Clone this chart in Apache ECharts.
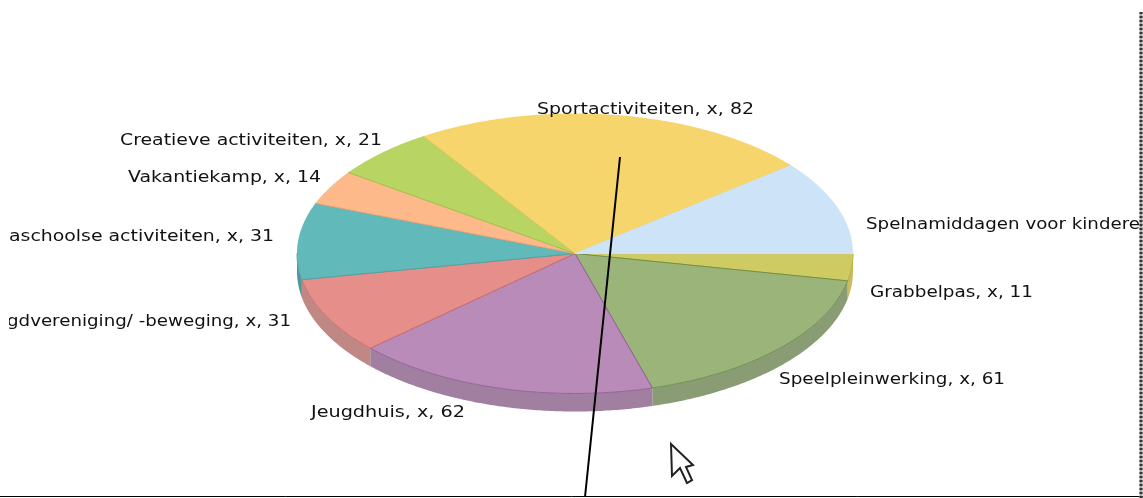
<!DOCTYPE html>
<html><head><meta charset="utf-8">
<style>html,body{margin:0;padding:0;background:#fff}#c{width:1143px;height:498px}</style>
<script src="https://cdn.jsdelivr.net/npm/echarts@6/dist/echarts.min.js"></script>
</head><body><div id="c"></div>
<script>
const categories = ["Grabbelpas","Speelpleinwerking","Jeugdhuis","Jeugdvereniging/ -beweging","Buitenschoolse activiteiten","Vakantiekamp","Creatieve activiteiten","Sportactiviteiten","Spelnamiddagen voor kinderen"];
const values = [11,61,62,31,31,14,21,82,38];
const visibleLabels = ["Grabbelpas, x, 11","Speelpleinwerking, x, 61","Jeugdhuis, x, 62","gdvereniging/ -beweging, x, 31","aschoolse activiteiten, x, 31","Vakantiekamp, x, 14","Creatieve activiteiten, x, 21","Sportactiviteiten, x, 82","Spelnamiddagen voor kindere"];

const topColors  = ["#cfcb63","#9bb47a","#b88bb8","#e58e8a","#62b9ba","#fdb98a","#b8d463","#f6d56c","#cde4f8"];
const edgeColors = ["#b5ae3c","#6f8f4c","#94609a","#c96f70","#4fa5a6","#eda677","#a5c24a","#e6c65c","#cde4f8"];
const sideColors = ["#c9b95f","#8a9c74","#a07fa0","#c08884","#4a9a9b","#d9a070","#98b050","#d6b558","#a9c4dc"];

const cx = 575, cy = 253.5, rx = 278, ry = 140, depth = 18;
const total = values.reduce((a,b)=>a+b,0);
const starts = []; values.reduce((acc,v,i)=>{starts[i]=acc;return acc+v;},0);
const ang = v => v/total*Math.PI*2;
const pt = (a,dy) => [cx+rx*Math.cos(a), cy+ry*Math.sin(a)+(dy||0)];
const arc = (a0,a1,dy) => { const n = Math.max(8, Math.ceil((a1-a0)/0.01)), p=[];
  for(let k=0;k<=n;k++) p.push(pt(a0+(a1-a0)*k/n,dy)); return p; };

function renderTop(params, api){
  const i = params.dataIndex, a0 = ang(starts[i]), a1 = ang(starts[i]+api.value(0));
  const rim = arc(a0,a1);
  const children = [
    {type:'polygon',shape:{points:[[cx,cy],...rim]},style:{fill:topColors[i]}},
    {type:'polyline',shape:{points:[pt(a0),[cx,cy],pt(a1)]},style:{fill:'none',stroke:edgeColors[i],lineWidth:1}}
  ];
  if(a0<Math.PI) children.push({type:'polyline',shape:{points:arc(a0,Math.min(a1,Math.PI))},style:{fill:'none',stroke:edgeColors[i],lineWidth:1}});
  return {type:'group',children};
}
function renderSide(params, api){
  const i = params.dataIndex, a0 = ang(starts[i]), a1 = Math.min(Math.PI, ang(starts[i]+api.value(0)));
  if(a0>=Math.PI) return null;
  const pts = [...arc(a0,a1),...arc(a0,a1,depth).reverse()];
  return {type:'polygon',shape:{points:pts},style:{fill:sideColors[i]}};
}

const FONT = '16px "DejaVu Sans"';
const mc = document.createElement('canvas').getContext('2d'); mc.font = FONT;
// left edge, right edge, vertical centre of each label text
const labelBoxes = [[870,1033,293],[779,1005,380],[311,465,413],[7,291,322],[9,274,237],[128,321,178],[120,382,141],[537,754,110],[866,1140,225]];
const labelEls = visibleLabels.map((t,i)=>{
  const b = labelBoxes[i], w = mc.measureText(t).width;
  return {type:'text',x:b[0],y:b[2],scaleX:(b[1]-b[0])/w,z:20,
    style:{text:t,font:FONT,fill:'#111',textAlign:'left',textVerticalAlign:'middle'}};
});

const chart = echarts.init(document.getElementById('c'),null,{renderer:'canvas'});
chart.setOption({
  animation:false,
  backgroundColor:'#fff',
  series:[
    {type:'custom',coordinateSystem:'none',renderItem:renderSide,silent:true,z:1,
     data:values.map((v,i)=>({name:categories[i],value:[v]}))},
    {type:'custom',coordinateSystem:'none',renderItem:renderTop,silent:true,z:2,
     data:values.map((v,i)=>({name:categories[i],value:[v]}))}
  ],
  graphic:{elements:[
    ...labelEls,
    {type:'rect',shape:{x:0,y:300,width:9,height:40},style:{fill:'#fff'},z:21},
    {type:'line',shape:{x1:620,y1:157,x2:585,y2:497},style:{stroke:'#000',lineWidth:2},z:15},
    {type:'line',shape:{x1:0,y1:496.5,x2:1143,y2:496.5},style:{stroke:'#000',lineWidth:1},z:15},
    {type:'line',shape:{x1:1141,y1:12,x2:1141,y2:498},style:{stroke:'#aaa',lineWidth:3},z:22},
    {type:'line',shape:{x1:1141,y1:12,x2:1141,y2:498},style:{stroke:'#333',lineWidth:3,lineDash:[2,2]},z:23},
    {type:'polygon',shape:{points:[[671,444],[693,465],[686,467],[692,480],[687,483],[680,468],[672,476]]},
     style:{fill:'#fff',stroke:'#222',lineWidth:2},z:24}
  ]}
});
</script></body></html>
